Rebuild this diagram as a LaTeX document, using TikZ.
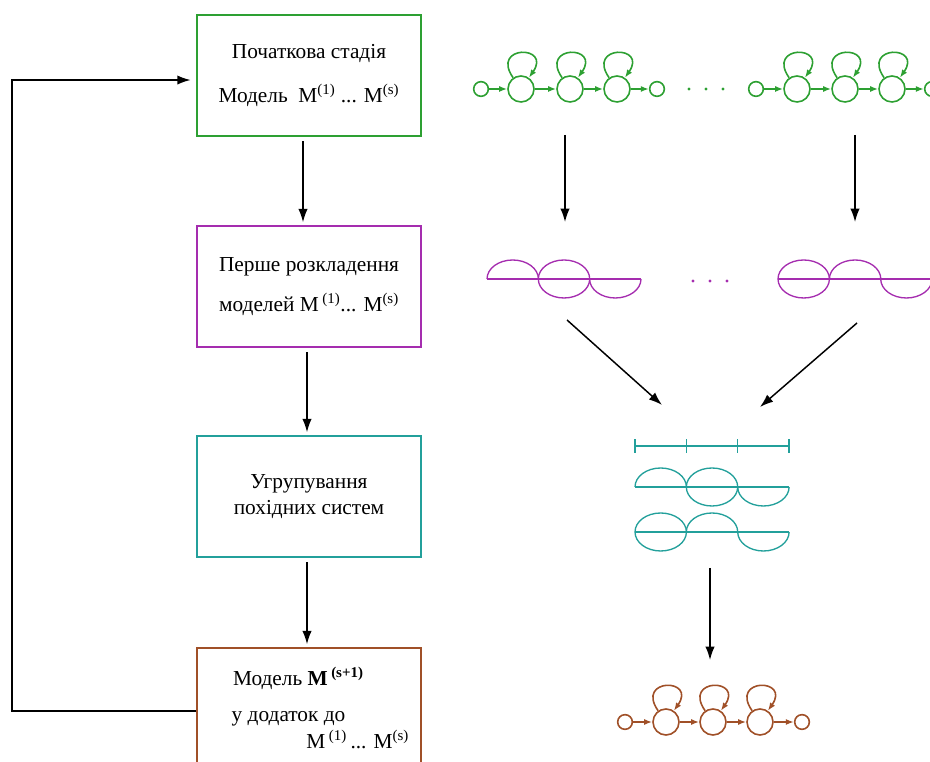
\documentclass[tikz,border=0pt]{standalone}
\usepackage{fontspec}
\setmainfont{Liberation Serif}
\usepackage{tikz}
\usetikzlibrary{arrows.meta,automata,positioning}

\definecolor{stgreen}{RGB}{45,160,50}
\definecolor{stpurple}{RGB}{165,45,175}
\definecolor{stteal}{RGB}{35,160,155}
\definecolor{stbrown}{RGB}{160,80,40}

\begin{document}
\begin{tikzpicture}[x=0.75pt, y=0.75pt,
    box/.style={draw, line width=1.6pt, minimum width=168pt, minimum height=90.75pt,
      align=center, font=\fontsize{16pt}{19pt}\selectfont},
    blk/.style={line width=1.1pt, -{Latex[length=10pt,width=7pt]}},
    big/.style={circle, draw, line width=1.2pt, minimum size=19.5pt, inner sep=0pt},
    small/.style={circle, draw, line width=1.2pt, minimum size=11pt, inner sep=0pt},
    tr/.style={line width=1.2pt, -{Latex[length=6pt,width=4.5pt]}},
    wave/.style={line width=1pt}]
\useasboundingbox (0,0) rectangle (930,762);

% boxes on the left
\node[box, stgreen] (m1) at (309, 686.5) {\textcolor{black}{Початкова стадія}\\[14pt]
  \textcolor{black}{Модель\ \ M\textsuperscript{(1)} ... M\textsuperscript{(s)}}};
\node[box, stpurple] (m2) at (309, 475.5) {\textcolor{black}{Перше розкладення}\\[11pt]
  \textcolor{black}{моделей M\,\textsuperscript{(1)}... M\textsuperscript{(s)}}};
\node[box, stteal] (m3) at (309, 265.5) {\textcolor{black}{Угрупування}\\[1pt]
  \textcolor{black}{похідних систем}};
\node[box, stbrown] (m4) at (309, 53.5) {};
\node[align=left, anchor=west, font=\fontsize{16pt}{19pt}\selectfont] (m4txt) at (227, 54)
  {\hspace*{1pt}Модель \textbf{M}\,\textbf{\textsuperscript{(s+1)}}\\[8pt]
   у додаток до\\[1pt]
   \hspace*{56pt}M\,\textsuperscript{(1)}\,... M\textsuperscript{(s)}};

\draw[blk, shorten <=3pt, shorten >=2pt] ([xshift=-4.5pt]m1.south) -- ([xshift=-4.5pt]m2.north);
\draw[blk, shorten <=3pt, shorten >=2pt] ([xshift=-1.5pt]m2.south) -- ([xshift=-1.5pt]m3.north);
\draw[blk, shorten <=3pt, shorten >=2pt] ([xshift=-1.5pt]m3.south) -- ([xshift=-1.5pt]m4.north);
\draw[blk, shorten >=4pt] ([yshift=-2pt]m4.west) -- ++(-184,0) |- ([yshift=-3.4pt]m1.west);

% initial models
\node[small, stgreen] (ga0) at (481, 673) {};
\node[big, stgreen] (ga1) at (521, 673) {};
\node[big, stgreen] (ga2) at (570, 673) {};
\node[big, stgreen] (ga3) at (617, 673) {};
\node[small, stgreen] (ga4) at (657, 673) {};
\draw[tr, stgreen] (ga0) -- (ga1);
\draw[tr, stgreen] (ga1) -- (ga2);
\draw[tr, stgreen] (ga2) -- (ga3);
\draw[tr, stgreen] (ga3) -- (ga4);
\draw[tr, stgreen] (ga1) to[out=125, in=55, looseness=6.5] (ga1);
\draw[tr, stgreen] (ga2) to[out=125, in=55, looseness=6.5] (ga2);
\draw[tr, stgreen] (ga3) to[out=125, in=55, looseness=6.5] (ga3);
\fill[stgreen] (689,673) circle (1.6) (706,673) circle (1.6) (723,673) circle (1.6);
\node[small, stgreen] (gb0) at (756, 673) {};
\node[big, stgreen] (gb1) at (797, 673) {};
\node[big, stgreen] (gb2) at (845, 673) {};
\node[big, stgreen] (gb3) at (892, 673) {};
\node[small, stgreen] (gb4) at (932, 673) {};
\draw[tr, stgreen] (gb0) -- (gb1);
\draw[tr, stgreen] (gb1) -- (gb2);
\draw[tr, stgreen] (gb2) -- (gb3);
\draw[tr, stgreen] (gb3) -- (gb4);
\draw[tr, stgreen] (gb1) to[out=125, in=55, looseness=6.5] (gb1);
\draw[tr, stgreen] (gb2) to[out=125, in=55, looseness=6.5] (gb2);
\draw[tr, stgreen] (gb3) to[out=125, in=55, looseness=6.5] (gb3);

% first decomposition
\draw[wave, stpurple] (487,483) -- (641,483);
\draw[wave, stpurple] (487,483) arc[start angle=180, end angle=0, x radius=25.7, y radius=19];
\draw[wave, stpurple] (564,483) ellipse [x radius=25.7, y radius=19];
\draw[wave, stpurple] (589.6,483) arc[start angle=180, end angle=360, x radius=25.7, y radius=19];
\fill[stpurple] (693,481) circle (1.6) (710,481) circle (1.6) (727,481) circle (1.6);
\draw[wave, stpurple] (778,483) -- (932,483);
\draw[wave, stpurple] (803.7,483) ellipse [x radius=25.7, y radius=19];
\draw[wave, stpurple] (829.4,483) arc[start angle=180, end angle=0, x radius=25.7, y radius=19];
\draw[wave, stpurple] (880.7,483) arc[start angle=180, end angle=360, x radius=25.7, y radius=19];

% grouping
\draw[wave, stteal] (635,316) -- (789,316);
\draw[wave, stteal] (635,309) -- (635,323);
\draw[wave, stteal] (686.3,309) -- (686.3,323);
\draw[wave, stteal] (737.7,309) -- (737.7,323);
\draw[wave, stteal] (789,309) -- (789,323);
\draw[wave, stteal] (635,275) -- (789,275);
\draw[wave, stteal] (635,275) arc[start angle=180, end angle=0, x radius=25.7, y radius=19];
\draw[wave, stteal] (712,275) ellipse [x radius=25.7, y radius=19];
\draw[wave, stteal] (737.7,275) arc[start angle=180, end angle=360, x radius=25.7, y radius=19];
\draw[wave, stteal] (635,230) -- (789,230);
\draw[wave, stteal] (660.7,230) ellipse [x radius=25.7, y radius=19];
\draw[wave, stteal] (686.3,230) arc[start angle=180, end angle=0, x radius=25.7, y radius=19];
\draw[wave, stteal] (737.7,230) arc[start angle=180, end angle=360, x radius=25.7, y radius=19];

% new model
\node[small, stbrown] (bs0) at (625, 40) {};
\node[big, stbrown] (bs1) at (666, 40) {};
\node[big, stbrown] (bs2) at (713, 40) {};
\node[big, stbrown] (bs3) at (760, 40) {};
\node[small, stbrown] (bs4) at (802, 40) {};
\draw[tr, stbrown] (bs0) -- (bs1);
\draw[tr, stbrown] (bs1) -- (bs2);
\draw[tr, stbrown] (bs2) -- (bs3);
\draw[tr, stbrown] (bs3) -- (bs4);
\draw[tr, stbrown] (bs1) to[out=125, in=55, looseness=6.5] (bs1);
\draw[tr, stbrown] (bs2) to[out=125, in=55, looseness=6.5] (bs2);
\draw[tr, stbrown] (bs3) to[out=125, in=55, looseness=6.5] (bs3);

% arrows on the right
\coordinate (gA) at (565,627);
\coordinate (pA) at (565,540);
\coordinate (gB) at (855,627);
\coordinate (pB) at (855,540);
\coordinate (pA2) at (567,442);
\coordinate (pB2) at (857,439);
\coordinate (tA) at (662,357);
\coordinate (tB) at (760,355);
\coordinate (tC) at (710,194);
\coordinate (bC) at (710,102);
\draw[blk] (gA) -- (pA);
\draw[blk] (gB) -- (pB);
\draw[blk] (pA2) -- (tA);
\draw[blk] (pB2) -- (tB);
\draw[blk] (tC) -- (bC);
\end{tikzpicture}
\end{document}
